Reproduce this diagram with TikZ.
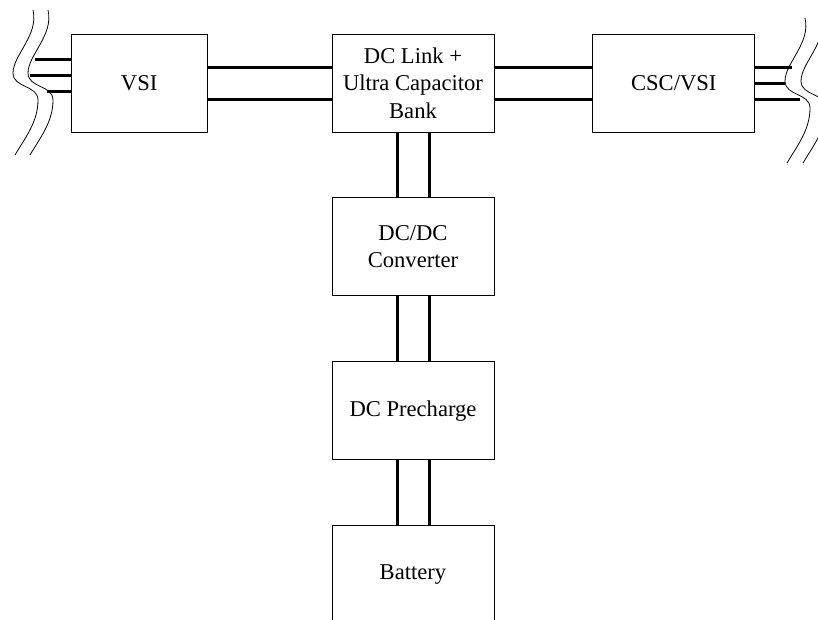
\documentclass[tikz,border=0pt]{standalone}
\usepackage{fontspec}
\setmainfont{Liberation Serif}
\usepackage{tikz}
\usetikzlibrary{positioning, calc}
\tikzstyle{block} = [rectangle, draw=black, fill=white, minimum width=162pt, minimum height=98pt, text centered, align=center, line width=0.8pt, font=\fontsize{22.6}{27.5}\selectfont]
\tikzstyle{bus} = [-, color=black, line width=3pt]
\tikzstyle{wave} = [-, color=black, line width=0.8pt]
% one wavy cut line, #1 is its top point
\newcommand{\cutwave}[1]{\draw[wave, shift={#1}] (0,0) .. controls (6,-25) and (-20,-45) .. (-20,-63) .. controls (-20,-78) and (5,-75) .. (5,-90) .. controls (5,-112) and (-8,-128) .. (-18,-145);}

\begin{document}
\begin{tikzpicture}[x=1pt, y=1pt]
        \clip (0,0) rectangle (818,-619);

        % --- top row ---
        \node [block] (dclink) at (413,-83) {DC Link +\\Ultra Capacitor\\Bank};
        \node [block, left=124pt of dclink, minimum width=136pt] (vsi) {VSI};
        \node [block, right=98pt of dclink] (csc) {CSC/VSI};

        % --- dc chain ---
        \node [block, below=65pt of dclink] (dcdc) {DC/DC\\Converter};
        \node [block, below=65pt of dcdc] (precharge) {DC Precharge};
        \node [block, below=65pt of precharge] (battery) {Battery};

        % Connect top row
        \draw [bus] ($(vsi.east)+(0,16)$) -- ($(dclink.west)+(0,16)$);
        \draw [bus] ($(vsi.east)+(0,-16)$) -- ($(dclink.west)+(0,-16)$);
        \draw [bus] ($(dclink.east)+(0,16)$) -- ($(csc.west)+(0,16)$);
        \draw [bus] ($(dclink.east)+(0,-16)$) -- ($(csc.west)+(0,-16)$);

        % Connect dc chain
        \draw [bus] ($(dclink.south)+(-16,0)$) -- ($(dcdc.north)+(-16,0)$);
        \draw [bus] ($(dclink.south)+(16,0)$) -- ($(dcdc.north)+(16,0)$);
        \draw [bus] ($(dcdc.south)+(-16,0)$) -- ($(precharge.north)+(-16,0)$);
        \draw [bus] ($(dcdc.south)+(16,0)$) -- ($(precharge.north)+(16,0)$);
        \draw [bus] ($(precharge.south)+(-16,0)$) -- ($(battery.north)+(-16,0)$);
        \draw [bus] ($(precharge.south)+(16,0)$) -- ($(battery.north)+(16,0)$);

        % Grid side: three phases, cut by wavy lines
        \coordinate (inA) at (35,-59);
        \coordinate (inB) at (30,-75);
        \coordinate (inC) at (47,-91);
        \draw [bus] (inA) -- (inA -| vsi.west);
        \draw [bus] (inB) -- (inB -| vsi.west);
        \draw [bus] (inC) -- (inC -| vsi.west);
        \cutwave{(33,-10)}
        \cutwave{(48,-10)}

        \coordinate (outA) at (792,-67);
        \coordinate (outB) at (785,-83);
        \coordinate (outC) at (800,-99);
        \draw [bus] (outA -| csc.east) -- (outA);
        \draw [bus] (outB -| csc.east) -- (outB);
        \draw [bus] (outC -| csc.east) -- (outC);
        \cutwave{(805,-18)}
        \cutwave{(821,-18)}
    \end{tikzpicture}
\end{document}
